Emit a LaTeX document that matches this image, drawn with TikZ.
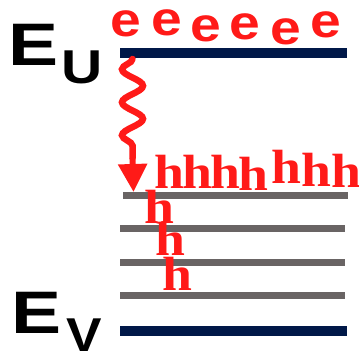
\documentclass[tikz,border=0pt]{standalone}
\usepackage{fontspec}
\usepackage{graphicx}
\usetikzlibrary{decorations.pathmorphing,arrows.meta}
\newfontfamily\labsans{Liberation Sans}[BoldFont=* Bold]
\newfontfamily\labserif{Liberation Serif}[BoldFont=* Bold]
\definecolor{carred}{RGB}{255,26,24}
\definecolor{navy}{RGB}{0,24,72}
\definecolor{lvlgray}{RGB}{105,100,100}
\tikzset{
  band/.style={navy,line width=10.5pt},
  level/.style={lvlgray,line width=7pt},
  bigE/.style={inner sep=0pt,anchor=base,font=\labsans\bfseries\fontsize{60}{60}\selectfont},
  subl/.style={inner sep=0pt,anchor=base,font=\labsans\bfseries\fontsize{47.5}{47.5}\selectfont},
  elec/.style={inner sep=0pt,anchor=base,text=carred,font=\labsans\bfseries\fontsize{48}{48}\selectfont},
  hole/.style={inner sep=0pt,anchor=base,text=carred,font=\labserif\bfseries\fontsize{48}{48}\selectfont},
  wave/.style={carred,line width=6.5pt,line cap=round,decorate,decoration={snake,amplitude=-10.5pt,segment length=33pt,post length=0pt}},
}
\newcommand{\wx}[2]{\scalebox{#1}[1]{#2}}
\begin{document}
\begin{tikzpicture}[x=1pt,y=-1pt]
\useasboundingbox (0,0) rectangle (359,351);
% levels
\coordinate (cbL) at (120,53);  \coordinate (cbR) at (347,53);
\coordinate (l1L) at (123,195); \coordinate (l1R) at (348,195);
\coordinate (l2L) at (120,228); \coordinate (l2R) at (345,228);
\coordinate (l3L) at (120,262); \coordinate (l3R) at (345,262);
\coordinate (l4L) at (120,295); \coordinate (l4R) at (345,295);
\coordinate (vbL) at (120,331); \coordinate (vbR) at (347,331);
\draw[band] (cbL) -- (cbR);
\draw[level] (l1L) -- (l1R);
\draw[level] (l2L) -- (l2R);
\draw[level] (l3L) -- (l3R);
\draw[level] (l4L) -- (l4R);
\draw[band] (vbL) -- (vbR);
% labels
\node[bigE] (EU) at (34,65) {\wx{1.25}{E}};
\node[subl] (U) at (82.5,83) {\wx{1.2}{U}};
\node[bigE] (EV) at (36.5,333) {\wx{1.25}{E}};
\node[subl] (V) at (84,351) {\wx{1.12}{V}};
% electrons
\node[elec] (e1) at (125.5,36) {\wx{1.15}{e}};
\node[elec] (e2) at (167,35) {\wx{1.15}{e}};
\node[elec] (e3) at (206,41) {\wx{1.15}{e}};
\node[elec] (e4) at (245,39) {\wx{1.15}{e}};
\node[elec] (e5) at (286,44) {\wx{1.15}{e}};
\node[elec] (e6) at (326,37) {\wx{1.15}{e}};
% wavy arrow
\coordinate (ws) at (132.5,59);
\coordinate (wm) at (132.5,158);
\coordinate (wt) at (133.5,192);
\draw[wave] (ws) -- (wm);
\draw[carred,line width=6pt,-{Triangle[length=28pt,width=28pt]}] (wm) -- (wt);
% holes
\node[hole] (h1) at (169,188) {\wx{1.12}{h}};
\node[hole] (h2) at (197,188) {\wx{1.12}{h}};
\node[hole] (h3) at (225,188) {\wx{1.12}{h}};
\node[hole] (h4) at (253,190) {\wx{1.12}{h}};
\node[hole] (h5) at (286,183) {\wx{1.12}{h}};
\node[hole] (h6) at (316,186) {\wx{1.12}{h}};
\node[hole] (h7) at (346,187) {\wx{1.12}{h}};
\node[hole] (ha) at (159,223) {\wx{1.12}{h}};
\node[hole] (hb) at (170,255) {\wx{1.12}{h}};
\node[hole] (hc) at (177,290) {\wx{1.12}{h}};
\end{tikzpicture}
\end{document}
